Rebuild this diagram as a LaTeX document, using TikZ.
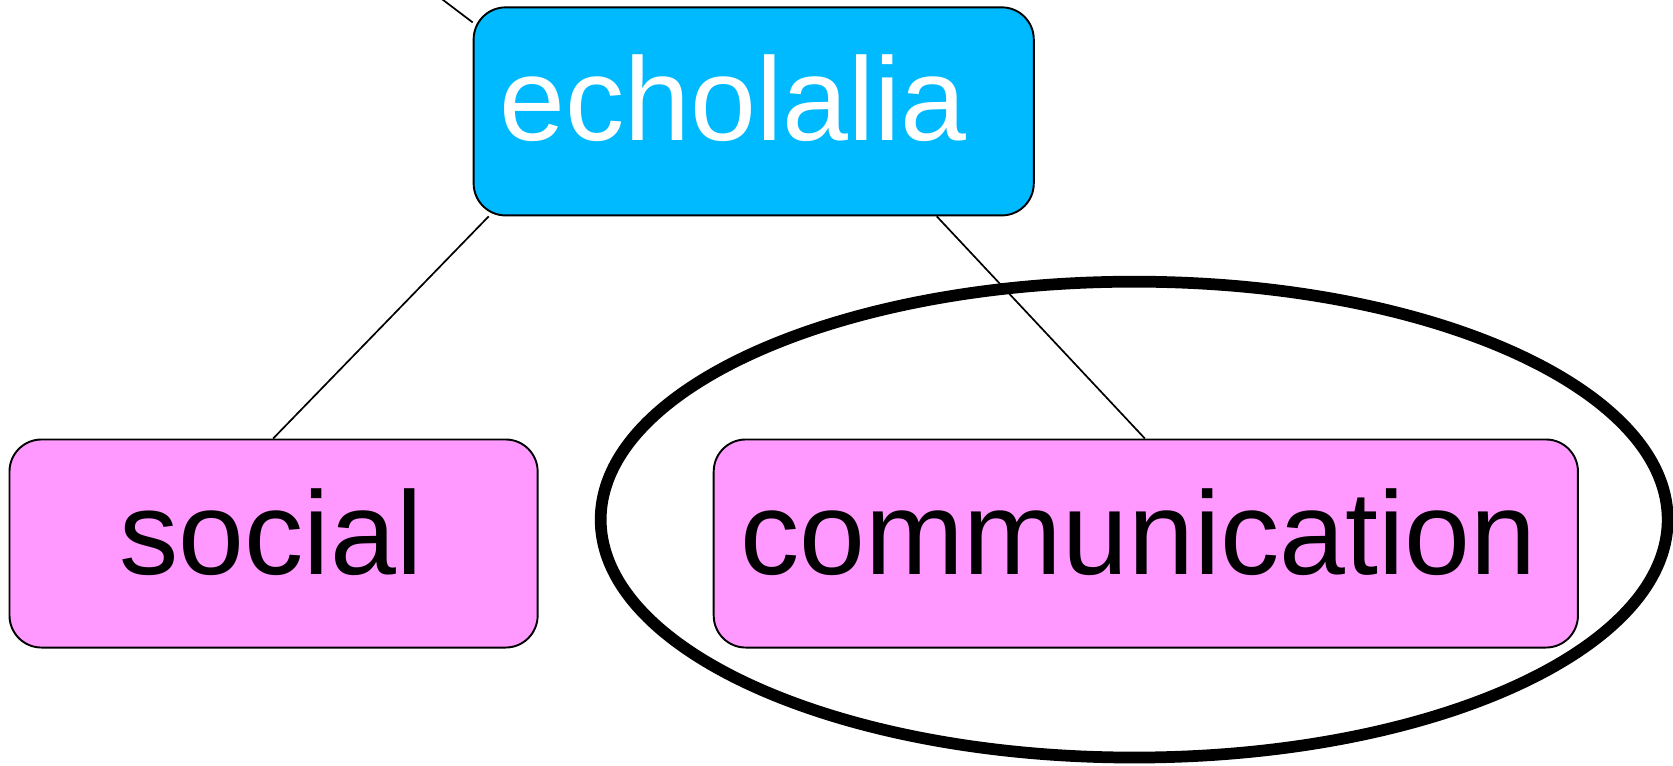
\documentclass[tikz,border=0pt]{standalone}
\usepackage{fontspec}
\setmainfont{Liberation Sans}
\usetikzlibrary{calc,shapes.geometric}
\definecolor{echoblue}{RGB}{0,186,255}
\definecolor{boxpink}{RGB}{255,153,255}
\tikzset{
  box/.style={draw=black, line width=1.8pt, rounded corners=30pt, minimum height=195pt, inner sep=0pt, anchor=north west},
  word/.style={inner sep=0pt, anchor=base, font=\fontsize{111}{133}\selectfont},
  link/.style={draw=black, line width=1.6pt},
  ring/.style={draw=black, line width=11pt, ellipse, minimum width=1000pt, minimum height=446pt, inner sep=0pt}
}
\begin{document}
\begin{tikzpicture}[x=1pt,y=-1pt]
\useasboundingbox (0,0) rectangle (1568,717);
\node[box, fill=echoblue, minimum width=525pt] (echo) at (443,6) {};
\node[box, fill=boxpink, minimum width=495pt] (social) at (8,411) {};
\node[box, fill=boxpink, minimum width=810pt] (comm) at (668,411) {};
\node[ring] (circ) at (1063,487) {};
\node[word, text=white] (echot) at (687,132) {echolalia};
\node[word, text=black] (socialt) at (254,538) {social};
\node[word, text=black] (commt) at (1067,538) {communication};
\coordinate (off) at (414,-1);
\draw[link] (off) -- ($(echo.north west)+(0,15)$);
\draw[link] ($(echo.south west)+(15,0)$) -- ($(social.north west)+(248,0)$);
\draw[link] ($(echo.south west)+(435,0)$) -- ($(comm.north west)+(405,0)$);
\end{tikzpicture}
\end{document}
